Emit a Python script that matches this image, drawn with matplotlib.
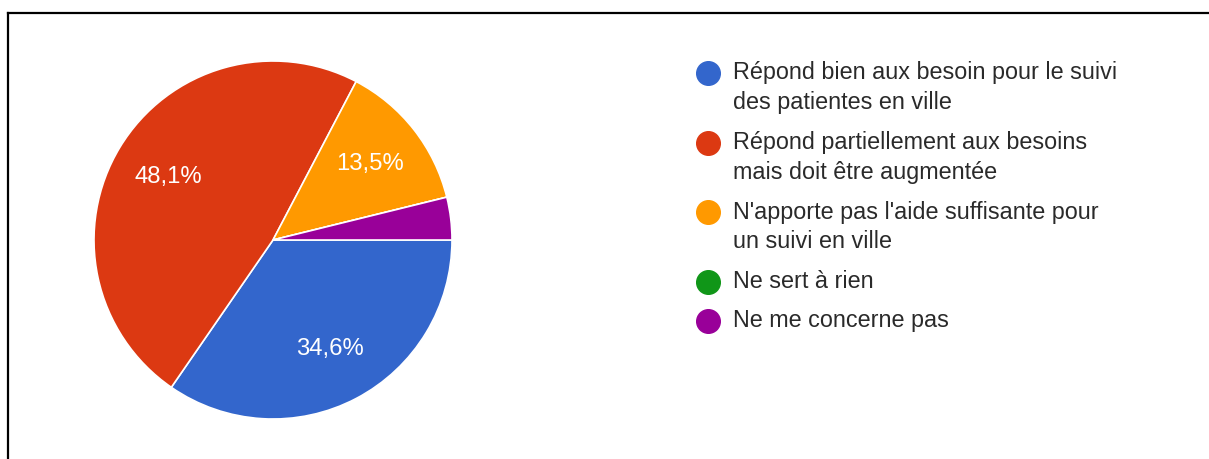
import matplotlib
matplotlib.use("Agg")
import matplotlib.pyplot as plt
from matplotlib.lines import Line2D

labels = [
    "Répond bien aux besoin pour le suivi\ndes patientes en ville",
    "Répond partiellement aux besoins\nmais doit être augmentée",
    "N'apporte pas l'aide suffisante pour\nun suivi en ville",
    "Ne sert à rien",
    "Ne me concerne pas",
]
counts = [18, 25, 7, 0, 2]
colors = ["#3366cc", "#dc3912", "#ff9900", "#109618", "#990099"]

W, H = 1209, 459
plt.rcParams["font.family"] = ["Liberation Sans", "DejaVu Sans"]
fig = plt.figure(figsize=(W / 100, H / 100), dpi=100)
fig.patch.set_facecolor("white")

# pie axes
cx, cy, r = 273, 240, 179
ax = fig.add_axes([(cx - r) / W, (H - cy - r) / H, 2 * r / W, 2 * r / H])


def fmt(p):
    return ("%.1f%%" % p).replace(".", ",") if p >= 5 else ""


wedges, texts, autotexts = ax.pie(
    counts, colors=colors, startangle=0, counterclock=False,
    autopct=fmt, pctdistance=0.685, radius=1.0,
    wedgeprops=dict(edgecolor="white", linewidth=1.2),
    textprops=dict(color="white", fontsize=17.2),
)
ax.set_xlim(-1, 1)
ax.set_ylim(-1, 1)
ax.set_aspect("equal")
ax.axis("off")

# legend (manual)
y = 73
for lab, col in zip(labels, colors):
    lines = lab.split("\n")
    fig.add_artist(Line2D([708 / W], [1 - y / H], marker="o", markersize=17,
                          color=col, linestyle="none",
                          transform=fig.transFigure))
    for i, ln in enumerate(lines):
        fig.text(733 / W, 1 - (y + i * 30) / H, ln, fontsize=16.8,
                 color="#2a2a2a", va="center", ha="left")
    y += len(lines) * 30 + 9.5

# border lines (top and left)
fig.add_artist(Line2D([8 / W, 1], [1 - 13 / H, 1 - 13 / H], color="black",
                      linewidth=1.6, transform=fig.transFigure))
fig.add_artist(Line2D([8 / W, 8 / W], [0, 1 - 13 / H], color="black",
                      linewidth=1.6, transform=fig.transFigure))

fig.savefig("out.png", dpi=100, facecolor="white")
